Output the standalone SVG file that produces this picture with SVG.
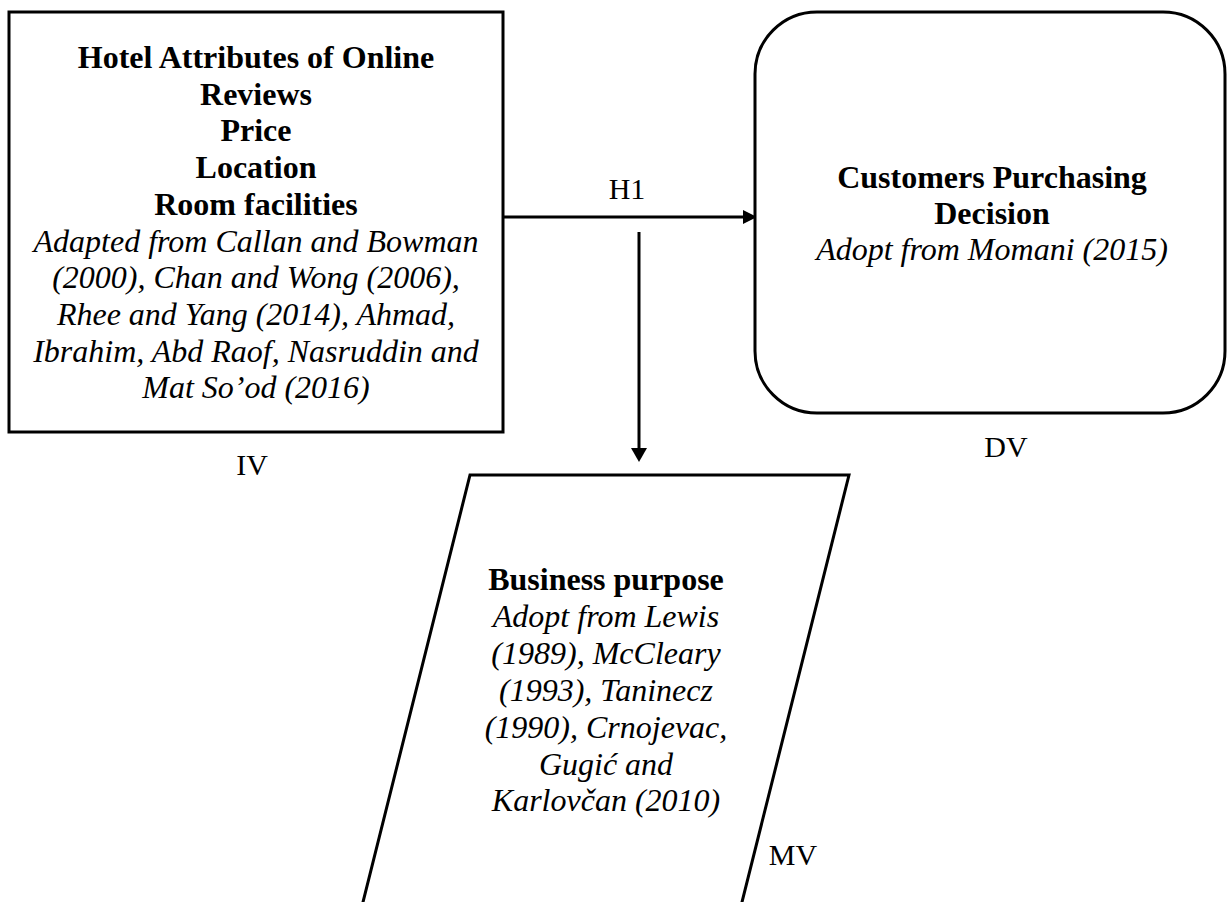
<svg xmlns="http://www.w3.org/2000/svg" width="1227" height="902" viewBox="0 0 1227 902">
<defs>
<style>
.shape{fill:#ffffff;stroke:#000000;stroke-width:3}
.conn{fill:none;stroke:#000000;stroke-width:3}
.head{fill:#000000;stroke:none}
text{font-family:"Liberation Serif","Times New Roman",serif;fill:#000000;text-anchor:middle}
.b{font-size:32px;font-weight:bold}
.i{font-size:32px;font-style:italic}
.lbl{font-size:30px}
</style>
</defs>
<rect width="1227" height="902" fill="#ffffff"/>
<g id="connectors">
<line class="conn" x1="503" y1="217" x2="744" y2="217"/>
<polygon class="head" points="743,210 757,217 743,224"/>
<line class="conn" x1="639" y1="232" x2="639" y2="449"/>
<polygon class="head" points="631,448 647,448 639,462"/>
<text class="lbl" x="627" y="199">H1</text>
</g>
<g id="iv">
<rect class="shape" x="9" y="12" width="494" height="420"/>
<text class="b" x="256" y="68">Hotel Attributes of Online</text>
<text class="b" x="256" y="104.7">Reviews</text>
<text class="b" x="256" y="141.4">Price</text>
<text class="b" x="256" y="178.1">Location</text>
<text class="b" x="256" y="214.8">Room facilities</text>
<text class="i" x="256" y="251.5">Adapted from Callan and Bowman</text>
<text class="i" x="256" y="288.2">(2000), Chan and Wong (2006),</text>
<text class="i" x="256" y="324.9">Rhee and Yang (2014), Ahmad,</text>
<text class="i" x="256" y="361.6">Ibrahim, Abd Raof, Nasruddin and</text>
<text class="i" x="256" y="398.3">Mat So’od (2016)</text>
<text class="lbl" x="252" y="475">IV</text>
</g>
<g id="dv">
<rect class="shape" x="755" y="12" width="470" height="401" rx="62" ry="62"/>
<text class="b" x="992" y="188">Customers Purchasing</text>
<text class="b" x="992" y="224">Decision</text>
<text class="i" x="992" y="260">Adopt from Momani (2015)</text>
<text class="lbl" x="1006" y="457">DV</text>
</g>
<g id="mv">
<polygon class="shape" points="470,475 849,475 740,910 361,910"/>
<text class="b" x="606" y="590">Business purpose</text>
<text class="i" x="606" y="626.9">Adopt from Lewis</text>
<text class="i" x="606" y="663.8">(1989), McCleary</text>
<text class="i" x="606" y="700.7">(1993), Taninecz</text>
<text class="i" x="606" y="737.6">(1990), Crnojevac,</text>
<text class="i" x="606" y="774.5">Gugić and</text>
<text class="i" x="606" y="811.4">Karlovčan (2010)</text>
<text class="lbl" x="793" y="865">MV</text>
</g>
</svg>
